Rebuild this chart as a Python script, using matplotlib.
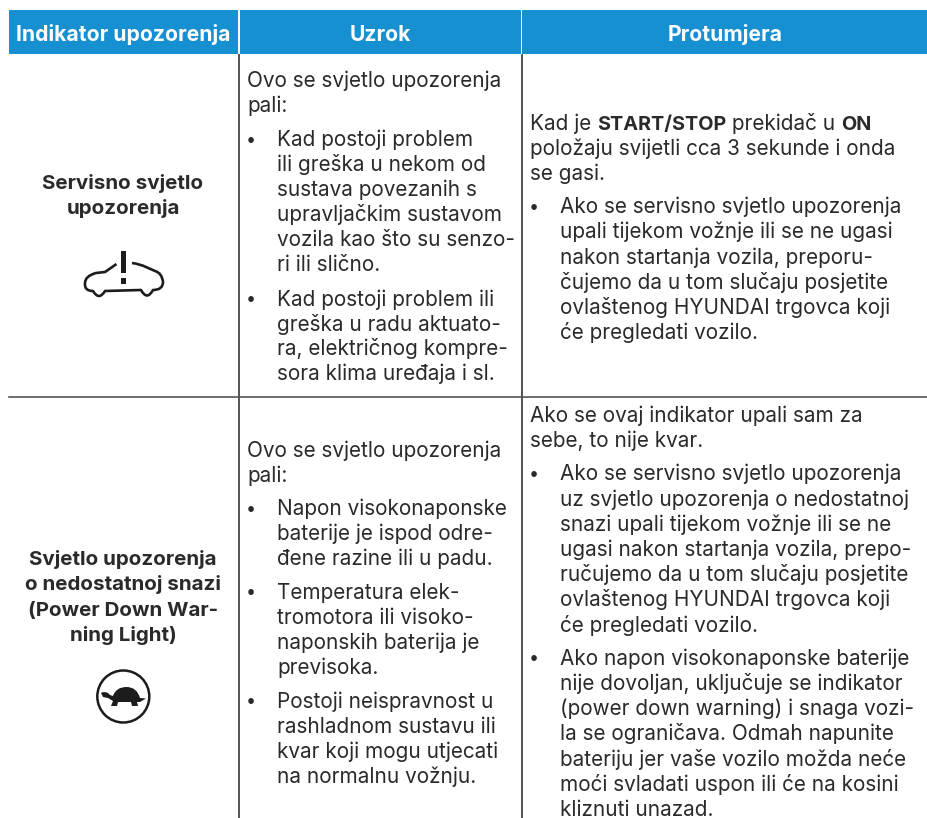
import matplotlib
matplotlib.use("Agg")
import matplotlib.pyplot as plt
from matplotlib.patches import Circle, PathPatch, Rectangle
from matplotlib.path import Path

plt.rcParams["font.family"] = ["Inter", "DejaVu Sans"]

W, H = 927, 818
BLUE = "#1790d2"
INK = "#2a2a2a"
BODY = 14.95

headers = ["Indikator upozorenja", "Uzrok", "Protumjera"]

names_1 = ["Servisno svjetlo", "upozorenja"]
names_2 = ["Svjetlo upozorenja", "o nedostatnoj snazi", "(Power Down War-", "ning Light)"]

cause_1 = [
    (False, ["Ovo se svjetlo upozorenja", "pali:"]),
    (True, ["Kad postoji problem", "ili greška u nekom od", "sustava povezanih s",
            "upravljačkim sustavom", "vozila kao što su senzo-", "ri ili slično."]),
    (True, ["Kad postoji problem ili", "greška u radu aktuato-",
            "ra, električnog kompre-", "sora klima uređaja i sl."]),
]
cause_2 = [
    (False, ["Ovo se svjetlo upozorenja", "pali:"]),
    (True, ["Napon visokonaponske", "baterije je ispod odre-", "đene razine ili u padu."]),
    (True, ["Temperatura elek-", "tromotora ili visoko-", "naponskih baterija je", "previsoka."]),
    (True, ["Postoji neispravnost u", "rashladnom sustavu ili",
            "kvar koji mogu utjecati", "na normalnu vožnju."]),
]
action_1_bold = [("Kad je ", False), ("START/STOP", True), (" prekidač u ", False), ("ON", True)]
action_1 = [
    (False, ["", "položaju svijetli cca 3 sekunde i onda", "se gasi."]),
    (True, ["Ako se servisno svjetlo upozorenja", "upali tijekom vožnje ili se ne ugasi",
            "nakon startanja vozila, preporu-", "čujemo da u tom slučaju posjetite",
            "ovlaštenog HYUNDAI trgovca koji", "će pregledati vozilo."]),
]
action_2 = [
    (False, ["Ako se ovaj indikator upali sam za", "sebe, to nije kvar."]),
    (True, ["Ako se servisno svjetlo upozorenja", "uz svjetlo upozorenja o nedostatnoj",
            "snazi upali tijekom vožnje ili se ne", "ugasi nakon startanja vozila, prepo-",
            "ručujemo da u tom slučaju posjetite", "ovlaštenog HYUNDAI trgovca koji",
            "će pregledati vozilo."]),
    (True, ["Ako napon visokonaponske baterije", "nije dovoljan, uključuje se indikator",
            "(power down warning) i snaga vozi-", "la se ograničava. Odmah napunite",
            "bateriju jer vaše vozilo možda neće", "moći svladati uspon ili će na kosini",
            "kliznuti unazad."]),
]


def draw_cell(ax, paragraphs, x, y, line_h=25.2, gap=8.0):
    for bullet, lines in paragraphs:
        if bullet:
            ax.text(x + 4.3, y - 1.5, "•", fontsize=BODY - 2, color=INK, ha="center", va="baseline")
        for line in lines:
            ax.text(x + 30 if bullet else x, y, line, fontsize=BODY, color=INK,
                    va="baseline", clip_on=True)
            y += line_h
        y += gap


def draw_runs(fig, ax, runs, x, y):
    renderer = fig.canvas.get_renderer()
    for chunk, bold in runs:
        t = ax.text(x, y, chunk.replace(" ", "\u00a0"), fontsize=14.3 if bold else BODY,
                    color=INK, va="baseline", fontweight="bold" if bold else "normal")
        x += t.get_window_extent(renderer).width


def draw_car(ax):
    verts = [
        (116.5, 264), (105, 272), (96, 273), (85, 276), (85, 283),
        (84, 291), (93, 291), (99, 301), (105, 291),
        (141, 290), (147, 301), (153, 290),
        (163, 290), (163, 282), (162, 273), (155, 271), (146, 267), (140, 264), (132, 263),
    ]
    codes = [Path.MOVETO, Path.LINETO, Path.LINETO, Path.CURVE3, Path.CURVE3,
             Path.CURVE3, Path.CURVE3, Path.CURVE3, Path.CURVE3,
             Path.LINETO, Path.CURVE3, Path.CURVE3,
             Path.CURVE3, Path.CURVE3, Path.CURVE3, Path.CURVE3, Path.LINETO, Path.CURVE3, Path.CURVE3]
    ax.add_patch(PathPatch(Path(verts, codes), fill=False, ec="#1c1c1c", lw=1.9, joinstyle="round"))
    ax.add_patch(Rectangle((121, 251), 5.5, 22, fc="#1c1c1c", ec="none"))
    ax.add_patch(Rectangle((121, 278), 5.5, 5.5, fc="#1c1c1c", ec="none"))


def draw_turtle(ax):
    ax.add_patch(Circle((123.3, 696.5), 26, fill=False, ec="#1c1c1c", lw=1.8))
    verts = [
        (101, 693), (104, 691), (108, 693), (110, 695), (113, 696),
        (116, 687), (126.5, 687), (137, 687), (140, 698),
        (146, 698.5), (140, 702), (137, 702),
        (138, 706), (132, 706), (131, 702), (118, 702),
        (117, 706), (111, 706), (113, 701), (108, 698), (103, 697),
        (101, 693),
    ]
    codes = [Path.MOVETO, Path.CURVE3, Path.CURVE3, Path.LINETO, Path.LINETO,
             Path.CURVE3, Path.CURVE3, Path.CURVE3, Path.CURVE3,
             Path.LINETO, Path.LINETO, Path.LINETO,
             Path.LINETO, Path.LINETO, Path.LINETO, Path.LINETO,
             Path.LINETO, Path.LINETO, Path.LINETO, Path.LINETO, Path.LINETO,
             Path.CLOSEPOLY]
    ax.add_patch(PathPatch(Path(verts, codes), fc="#1c1c1c", ec="none"))


def main():
    fig = plt.figure(figsize=(W / 100, H / 100), dpi=100)
    ax = fig.add_axes([0, 0, 1, 1])
    ax.set_xlim(0, W)
    ax.set_ylim(H, 0)
    ax.axis("off")

    spans = [(9, 238.5), (240, 521), (522.5, 927)]
    for (x0, x1), label in zip(spans, headers):
        ax.add_patch(Rectangle((x0, 10), x1 - x0, 44, fc=BLUE, ec="none"))
        ax.text((x0 + x1) / 2, 40.7, label, color="white", fontsize=15.2,
                fontweight="bold", ha="center", va="baseline")

    ax.plot([239, 239], [55, H], color="#555555", lw=1.4)
    ax.plot([522, 522], [55, H], color="#333333", lw=1.2)
    ax.plot([9, W], [397, 397], color="#555555", lw=1.2)

    for i, line in enumerate(names_1):
        ax.text(123, 189.3 + i * 24.5, line, fontsize=14.8, fontweight="bold",
                color=INK, ha="center", va="baseline")
    for i, line in enumerate(names_2):
        ax.text(123, 565 + i * 25.3, line, fontsize=14.8, fontweight="bold",
                color=INK, ha="center", va="baseline")

    draw_car(ax)
    draw_turtle(ax)

    draw_cell(ax, cause_1, 247, 86.7, line_h=24.9, gap=9.9)
    draw_cell(ax, cause_2, 247, 456.7, line_h=25.1, gap=8.3)
    draw_runs(fig, ax, action_1_bold, 530, 129.5)
    draw_cell(ax, action_1, 530, 129.5)
    draw_cell(ax, action_2, 530, 422)

    fig.savefig("out.png", dpi=100)


if __name__ == "__main__":
    main()
